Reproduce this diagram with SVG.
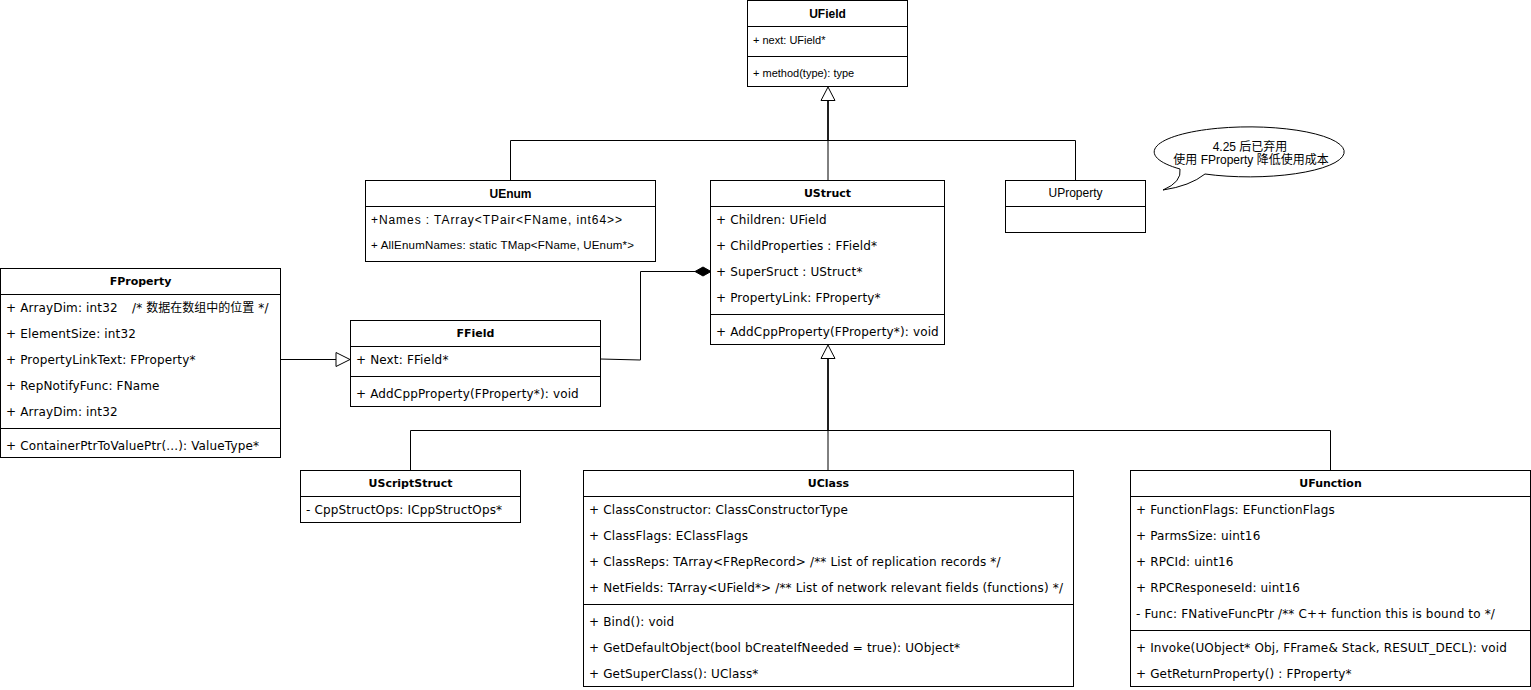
<svg xmlns="http://www.w3.org/2000/svg" width="1531" height="690" viewBox="0 0 1531 690">
<style>
.box{fill:#fff;stroke:#000;stroke-width:1}
.ln{stroke:#000;stroke-width:1;fill:none}
.t{font-family:"DejaVu Sans","Noto Sans CJK SC",sans-serif;font-size:12px;letter-spacing:0.15px;fill:#000}
.h{font-family:"DejaVu Sans","Noto Sans CJK SC",sans-serif;font-size:11px;font-weight:bold;fill:#000;text-anchor:middle}
.a{font-family:"Liberation Sans",Arial,"Noto Sans CJK SC",sans-serif;font-size:11px;fill:#000}
.ah{font-family:"Liberation Sans",Arial,sans-serif;font-size:12px;font-weight:bold;fill:#000;text-anchor:middle}
.cj{letter-spacing:0}
.con{stroke:#000;stroke-width:1;fill:none}
.tri{fill:#fff;stroke:#000;stroke-width:1}
</style>
<rect width="1531" height="690" fill="#fff"/>

<g id="connectors">
  <path class="con" d="M828 101 V140.5 H510.5 V180"/>
  <path class="con" d="M828 101 V140.5 H1075.5 V180"/>
  <path class="con" d="M828 101 V180"/>
  <polygon class="tri" points="828,87 821,100.5 835,100.5"/>
  <path class="con" d="M828 359 V430.5 H410.5 V470"/>
  <path class="con" d="M828 359 V470"/>
  <path class="con" d="M828 359 V430.5 H1330.5 V470"/>
  <polygon class="tri" points="828,345 821,358.5 835,358.5"/>
  <path class="con" d="M280.5 359.5 H336"/>
  <polygon class="tri" points="350,359.5 336,352.5 336,366.5"/>
  <path class="con" d="M600.5 359 L640.5 360 V271.5 H695"/>
  <polygon points="711,271.5 703,267 695,271.5 703,276" fill="#000" stroke="#000" stroke-width="1"/>
</g>

<g id="UField">
  <rect class="box" x="747.5" y="0.5" width="160" height="86"/>
  <line class="ln" x1="747.5" y1="26.5" x2="907.5" y2="26.5"/>
  <line class="ln" x1="747.5" y1="56.5" x2="907.5" y2="56.5"/>
  <text class="ah" x="827.5" y="18">UField</text>
  <text class="a" x="753" y="44">+ next: UField*</text>
  <text class="a" x="753" y="77">+ method(type): type</text>
</g>

<g id="UEnum">
  <rect class="box" x="365.5" y="180.5" width="290" height="81"/>
  <line class="ln" x1="365.5" y1="206.5" x2="655.5" y2="206.5"/>
  <text class="ah" x="510.5" y="198">UEnum</text>
  <text class="a" x="371" y="224" style="font-size:12px" textLength="251" lengthAdjust="spacing">+Names : TArray&lt;TPair&lt;FName, int64&gt;&gt;</text>
  <text class="a" x="371" y="249" style="font-size:11.5px" textLength="263" lengthAdjust="spacing">+ AllEnumNames: static TMap&lt;FName, UEnum*&gt;</text>
</g>

<g id="UStruct">
  <rect class="box" x="710.5" y="180.5" width="234" height="164"/>
  <line class="ln" x1="710.5" y1="206.5" x2="944.5" y2="206.5"/>
  <line class="ln" x1="710.5" y1="314.5" x2="944.5" y2="314.5"/>
  <text class="h" x="827.5" y="197">UStruct</text>
  <text class="t" x="716" y="224">+ Children: UField</text>
  <text class="t" x="716" y="250">+ ChildProperties : FField*</text>
  <text class="t" x="716" y="276">+ SuperSruct : UStruct*</text>
  <text class="t" x="716" y="302">+ PropertyLink: FProperty*</text>
  <text class="t" x="716" y="336">+ AddCppProperty(FProperty*): void</text>
</g>

<g id="UProperty">
  <rect class="box" x="1005.5" y="180.5" width="140" height="52"/>
  <line class="ln" x1="1005.5" y1="206.5" x2="1145.5" y2="206.5"/>
  <text class="a" x="1075.5" y="197" style="font-size:12px;text-anchor:middle">UProperty</text>
</g>

<g id="callout">
  <path d="M1205 174 A95 25 0 1 0 1180 169 Q1182 182 1163 190 Q1190 186 1205 174 Z" fill="#fff" stroke="#000" stroke-width="1"/>
  <text class="a" x="1250" y="151" text-anchor="middle" style="font-size:12px">4.25 后已弃用</text>
  <text class="a" x="1251" y="164" text-anchor="middle" style="font-size:12px">使用 FProperty 降低使用成本</text>
</g>

<g id="FProperty">
  <rect class="box" x="0.5" y="268.5" width="280" height="189"/>
  <line class="ln" x1="0.5" y1="294.5" x2="280.5" y2="294.5"/>
  <line class="ln" x1="0.5" y1="428.5" x2="280.5" y2="428.5"/>
  <text class="h" x="140.5" y="285">FProperty</text>
  <text class="t" x="6" y="312">+ ArrayDim: int32<tspan x="132">/* </tspan><tspan class="cj">数据在数组中的位置</tspan> */</text>
  <text class="t" x="6" y="338">+ ElementSize: int32</text>
  <text class="t" x="6" y="364">+ PropertyLinkText: FProperty*</text>
  <text class="t" x="6" y="390">+ RepNotifyFunc: FName</text>
  <text class="t" x="6" y="416">+ ArrayDim: int32</text>
  <text class="t" x="6" y="450">+ ContainerPtrToValuePtr(...): ValueType*</text>
</g>

<g id="FField">
  <rect class="box" x="350.5" y="320.5" width="250" height="86"/>
  <line class="ln" x1="350.5" y1="346.5" x2="600.5" y2="346.5"/>
  <line class="ln" x1="350.5" y1="376.5" x2="600.5" y2="376.5"/>
  <text class="h" x="475.5" y="337">FField</text>
  <text class="t" x="356" y="364">+ Next: FField*</text>
  <text class="t" x="356" y="398">+ AddCppProperty(FProperty*): void</text>
</g>

<g id="UScriptStruct">
  <rect class="box" x="300.5" y="470.5" width="220" height="52"/>
  <line class="ln" x1="300.5" y1="496.5" x2="520.5" y2="496.5"/>
  <text class="h" x="410.5" y="487">UScriptStruct</text>
  <text class="t" x="306" y="514">- CppStructOps: ICppStructOps*</text>
</g>

<g id="UClass">
  <rect class="box" x="583.5" y="470.5" width="490" height="216"/>
  <line class="ln" x1="583.5" y1="496.5" x2="1073.5" y2="496.5"/>
  <line class="ln" x1="583.5" y1="604.5" x2="1073.5" y2="604.5"/>
  <text class="h" x="828.5" y="487">UClass</text>
  <text class="t" x="589" y="514">+ ClassConstructor: ClassConstructorType</text>
  <text class="t" x="589" y="540">+ ClassFlags: EClassFlags</text>
  <text class="t" x="589" y="566">+ ClassReps: TArray&lt;FRepRecord&gt; /** List of replication records */</text>
  <text class="t" x="589" y="592">+ NetFields: TArray&lt;UField*&gt; /** List of network relevant fields (functions) */</text>
  <text class="t" x="589" y="626">+ Bind(): void</text>
  <text class="t" x="589" y="652">+ GetDefaultObject(bool bCreateIfNeeded = true): UObject*</text>
  <text class="t" x="589" y="678">+ GetSuperClass(): UClass*</text>
</g>

<g id="UFunction">
  <rect class="box" x="1130.5" y="470.5" width="400" height="216"/>
  <line class="ln" x1="1130.5" y1="496.5" x2="1530.5" y2="496.5"/>
  <line class="ln" x1="1130.5" y1="630.5" x2="1530.5" y2="630.5"/>
  <text class="h" x="1330.5" y="487">UFunction</text>
  <text class="t" x="1136" y="514">+ FunctionFlags: EFunctionFlags</text>
  <text class="t" x="1136" y="540">+ ParmsSize: uint16</text>
  <text class="t" x="1136" y="566">+ RPCId: uint16</text>
  <text class="t" x="1136" y="592">+ RPCResponeseId: uint16</text>
  <text class="t" x="1136" y="618">- Func: FNativeFuncPtr /** C++ function this is bound to */</text>
  <text class="t" x="1136" y="652">+ Invoke(UObject* Obj, FFrame&amp; Stack, RESULT_DECL): void</text>
  <text class="t" x="1136" y="678">+ GetReturnProperty() : FProperty*</text>
</g>
</svg>
